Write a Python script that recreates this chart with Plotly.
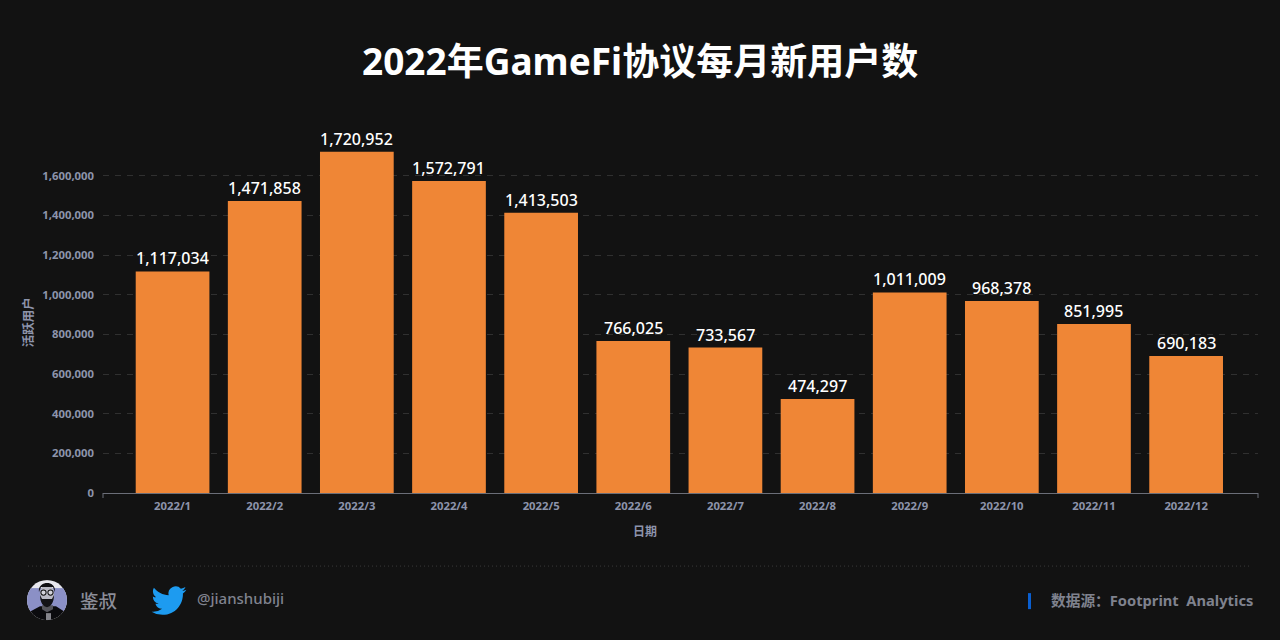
import base64
import plotly.graph_objects as go

months = ["2022/1","2022/2","2022/3","2022/4","2022/5","2022/6","2022/7","2022/8","2022/9","2022/10","2022/11","2022/12"]
users = [1117034,1471858,1720952,1572791,1413503,766025,733567,474297,1011009,968378,851995,690183]
y_ticks = [0,200000,400000,600000,800000,1000000,1200000,1400000,1600000]
title_text = "2022年GameFi协议每月新用户数"
x_title = "日期"
y_title = "活跃用户"

CJK = "Noto Sans, Noto Sans CJK SC, sans-serif"
W, H = 1280, 640
L, R, T, B = 103, 1258, 136.4, 493
def px(x): return (x - L) / (R - L)
def py(y): return (B - y) / (B - T)

def uri(svg):
    return "data:image/svg+xml;base64," + base64.b64encode(svg.encode()).decode()

bird = '''<svg xmlns="http://www.w3.org/2000/svg" viewBox="0 0 24 24"><path fill="#1d9bf0" d="M23.953 4.57a10 10 0 01-2.825.775 4.958 4.958 0 002.163-2.723c-.951.555-2.005.959-3.127 1.184a4.92 4.92 0 00-8.384 4.482C7.69 8.095 4.067 6.13 1.64 3.162a4.822 4.822 0 00-.666 2.475c0 1.71.87 3.213 2.188 4.096a4.904 4.904 0 01-2.228-.616v.06a4.923 4.923 0 003.946 4.827 4.996 4.996 0 01-2.212.085 4.936 4.936 0 004.604 3.417 9.867 9.867 0 01-6.102 2.105c-.39 0-.779-.023-1.17-.067a13.995 13.995 0 007.557 2.209c9.053 0 13.998-7.496 13.998-13.985 0-.21 0-.42-.015-.63A9.935 9.935 0 0024 4.59z"/></svg>'''
avatar = '''<svg xmlns="http://www.w3.org/2000/svg" viewBox="0 0 40 40"><defs><clipPath id="c"><circle cx="20" cy="20" r="20"/></clipPath></defs><g clip-path="url(#c)"><rect width="40" height="40" fill="#e8e8ee"/><rect y="8" width="40" height="23" fill="#8b90c6"/><path d="M0 40V33L13 26H29L40 33V40Z" fill="#0b0b0e"/><path d="M15 25H26V29L20 32L15 29Z" fill="#55555c"/><ellipse cx="20" cy="14" rx="7" ry="10" fill="#b9b9c4"/><path d="M12 12C10 1 29 -1 28 12L26 7H14Z" fill="#101014"/><path d="M13 15C13 31 27 31 27 15L25 19H15Z" fill="#131317"/><circle cx="16.500" cy="12.500" r="2.600" fill="#d4d4dc" stroke="#111" stroke-width="1"/><circle cx="23.500" cy="12.500" r="2.600" fill="#d4d4dc" stroke="#111" stroke-width="1"/><rect x="19" y="33" width="5" height="7" fill="#85858c"/></g></svg>'''

fig = go.Figure(go.Bar(
    x=months, y=users, width=0.8,
    marker=dict(color="#EF8636", line=dict(width=0)),
    cliponaxis=False,
    hoverinfo="x+y",
))

def note(x, y, text, size, color, anchor="left", weight=400, **kw):
    return dict(xref="paper", yref="paper", x=px(x), y=py(y), text=text, showarrow=False,
                xanchor=anchor, yanchor="middle",
                font=dict(family=CJK, size=size, color=color, weight=weight), **kw)

value_labels = [
    dict(xref="x", yref="y", x=m, y=v, text=f"{v:,}", showarrow=False,
         xanchor="center", yanchor="bottom", yshift=0,
         font=dict(family=CJK, size=16, color="#ffffff", weight=500))
    for m, v in zip(months, users)
]

axis_color = "#6b6e78"
def end_tick(x):
    return dict(type="line", xref="paper", yref="paper", x0=px(x), x1=px(x), y0=py(493), y1=py(498),
                line=dict(color=axis_color, width=1))

fig.update_layout(
    width=W, height=H, autosize=False,
    margin=dict(l=L, r=W-R, t=T, b=H-B, pad=0),
    paper_bgcolor="#121212", plot_bgcolor="#121212",
    showlegend=False, bargap=0.2,
    title=None,
    xaxis=dict(type="category", range=[-0.755, 11.78], showgrid=False,
               showline=True, linecolor=axis_color, linewidth=1,
               ticks="", tickfont=dict(family=CJK, size=11.3, color="#8d94ab", weight=700),
               ticklabelstandoff=2,
               title=None, fixedrange=True, zeroline=False),
    yaxis=dict(range=[0, 1800000], tickvals=y_ticks, tickformat=",d",
               showgrid=True, griddash="6px,6px", gridcolor="#303030", gridwidth=1,
               showline=False, zeroline=False, ticks="",
               tickfont=dict(family=CJK, size=11.3, color="#8d94ab", weight=700),
               ticklabelstandoff=8, title=None, fixedrange=True),
    annotations=value_labels + [
        note(640, 60.5, title_text, 37, "#ffffff", "center", 700),
        note(645, 531, x_title, 12, "#8d94ab", "center", 700),
        note(28.500, 323, y_title, 12.5, "#8d94ab", "center", 700, textangle=-90),
        note(78, 600, "鉴叔", 18.5, "#8b8d98", "left", 500),
        note(195, 598, "@jianshubiji", 15, "#80838f", "left", 500),
        note(1254.500, 600, "数据源：Footprint  Analytics", 14.7, "#7f828e", "right", 700),
    ],
    shapes=[
        dict(type="line", xref="paper", yref="paper", x0=px(28), x1=px(1251), y0=py(566), y1=py(566),
             line=dict(color="#3a3a3a", width=1, dash="1px,3px"), layer="below"),
        dict(type="rect", xref="paper", yref="paper", x0=px(1028), x1=px(1031), y0=py(593), y1=py(609),
             line=dict(width=0), fillcolor="#0a5fd0"),
        end_tick(103), end_tick(1258),
    ],
    images=[
        dict(source=uri(avatar), xref="paper", yref="paper", x=px(27), y=py(580), sizex=40/(R-L), sizey=40/(B-T),
             xanchor="left", yanchor="top", sizing="stretch", layer="above"),
        dict(source=uri(bird), xref="paper", yref="paper", x=px(151.5), y=py(583), sizex=35/(R-L), sizey=35/(B-T),
             xanchor="left", yanchor="top", sizing="stretch", layer="above"),
    ],
)
fig.write_html("out.html", config=dict(displayModeBar=False),
               post_script="document.body.style.margin='0';document.body.style.background='#121212';")
